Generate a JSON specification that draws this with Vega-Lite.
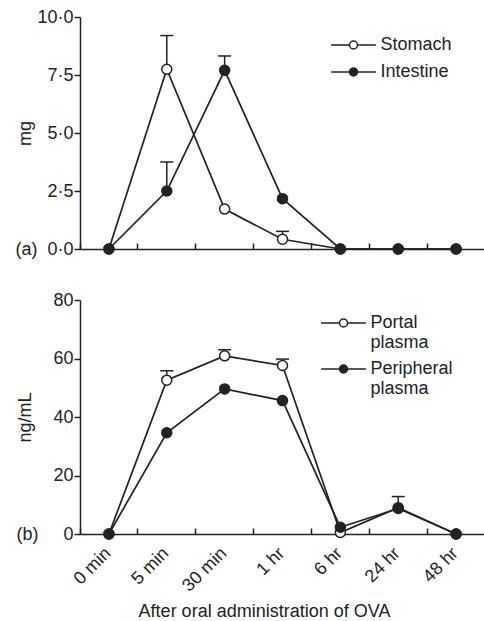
{
  "$schema": "https://vega.github.io/schema/vega-lite/v6.json",
  "background": "white",
  "padding": {"left": 14, "top": 8, "right": 0, "bottom": 0},
  "spacing": 33,
  "resolve": {"scale": {"fill": "independent"}, "legend": {"fill": "independent"}},
  "config": {
    "font": "Liberation Sans",
    "view": {"stroke": null},
    "axis": {
      "grid": false,
      "domainColor": "#222",
      "tickColor": "#222",
      "labelColor": "#222",
      "titleColor": "#222",
      "labelFontSize": 18,
      "titleFontSize": 18,
      "titleFontWeight": "normal",
      "domainWidth": 1.5,
      "tickWidth": 1.5,
      "labelPadding": 1
    },
    "legend": {
      "title": null,
      "orient": "none",
      "padding": 0,
      "symbolType": "M-5.6,0H-1M1,0H5.6M1,0A1,1,0,1,1,-1,0A1,1,0,1,1,1,0Z",
      "symbolSize": 64,
      "symbolStrokeColor": "#222",
      "symbolStrokeWidth": 1.5,
      "symbolOpacity": 1,
      "labelFontSize": 18,
      "labelColor": "#222",
      "labelOffset": 18,
      "labelLimit": 300
    }
  },
  "datasets": {
    "gut": [
      {"time": "0 min", "series": "Stomach", "value": 0},
      {"time": "5 min", "series": "Stomach", "value": 7.75, "upper": 9.2},
      {"time": "30 min", "series": "Stomach", "value": 1.72},
      {"time": "1 hr", "series": "Stomach", "value": 0.42, "upper": 0.76},
      {"time": "6 hr", "series": "Stomach", "value": 0},
      {"time": "24 hr", "series": "Stomach", "value": 0},
      {"time": "48 hr", "series": "Stomach", "value": 0},
      {"time": "0 min", "series": "Intestine", "value": 0},
      {"time": "5 min", "series": "Intestine", "value": 2.5, "upper": 3.75},
      {"time": "30 min", "series": "Intestine", "value": 7.7, "upper": 8.32},
      {"time": "1 hr", "series": "Intestine", "value": 2.17},
      {"time": "6 hr", "series": "Intestine", "value": 0},
      {"time": "24 hr", "series": "Intestine", "value": 0},
      {"time": "48 hr", "series": "Intestine", "value": 0}
    ],
    "plasma": [
      {"time": "0 min", "series": "Portal plasma", "value": 0},
      {"time": "5 min", "series": "Portal plasma", "value": 52.6, "upper": 55.8},
      {"time": "30 min", "series": "Portal plasma", "value": 60.9, "upper": 63.0},
      {"time": "1 hr", "series": "Portal plasma", "value": 57.6, "upper": 59.8},
      {"time": "6 hr", "series": "Portal plasma", "value": 0.5},
      {"time": "24 hr", "series": "Portal plasma", "value": 9.0, "upper": 12.8},
      {"time": "48 hr", "series": "Portal plasma", "value": 0},
      {"time": "0 min", "series": "Peripheral plasma", "value": 0},
      {"time": "5 min", "series": "Peripheral plasma", "value": 34.6},
      {"time": "30 min", "series": "Peripheral plasma", "value": 49.6},
      {"time": "1 hr", "series": "Peripheral plasma", "value": 45.6},
      {"time": "6 hr", "series": "Peripheral plasma", "value": 2.3},
      {"time": "24 hr", "series": "Peripheral plasma", "value": 8.7},
      {"time": "48 hr", "series": "Peripheral plasma", "value": 0}
    ]
  },
  "vconcat": [
    {
      "width": 405,
      "height": 232,
      "data": {"name": "gut"},
      "encoding": {
        "x": {
          "field": "time",
          "type": "ordinal",
          "scale": {"type": "band", "domain": ["0 min", "5 min", "30 min", "1 hr", "6 hr", "24 hr", "48 hr"], "paddingInner": 0, "paddingOuter": 0},
          "axis": {"title": null, "labels": false, "bandPosition": 0, "tickSize": -6}
        }
      },
      "layer": [
        {
          "mark": {"type": "line", "color": "#222", "strokeWidth": 1.7},
          "encoding": {
            "y": {
              "field": "value",
              "type": "quantitative",
              "scale": {"domain": [0, 10], "nice": false},
              "axis": {
                "title": "mg",
                "values": [0, 2.5, 5, 7.5, 10],
                "tickSize": 6,
                "labelExpr": "datum.value == 0 ? '(a)\u00a0\u00a00·0' : replace(format(datum.value, '.1f'), '.', '·')",
                "titleX": -50,
                "titleBaseline": "alphabetic"
              }
            },
            "detail": {"field": "series"}
          }
        },
        {
          "transform": [{"filter": "isValid(datum.upper)"}],
          "mark": {"type": "rule", "color": "#222", "strokeWidth": 1.5},
          "encoding": {
            "y": {"field": "value", "type": "quantitative"},
            "y2": {"field": "upper"}
          }
        },
        {
          "transform": [{"filter": "isValid(datum.upper)"}],
          "mark": {"type": "tick", "orient": "horizontal", "color": "#222", "thickness": 1.5, "size": 13, "opacity": 1},
          "encoding": {
            "y": {"field": "upper", "type": "quantitative"}
          }
        },
        {
          "mark": {"type": "point", "shape": "circle", "filled": true, "size": 100, "stroke": "#222", "strokeWidth": 1.5, "opacity": 1},
          "encoding": {
            "y": {"field": "value", "type": "quantitative"},
            "fill": {
              "field": "series",
              "type": "nominal",
              "scale": {"domain": ["Stomach", "Intestine"], "range": ["white", "#222"]},
              "legend": {"legendX": 264.5, "legendY": 19, "rowPadding": 9}
            }
          }
        }
      ]
    },
    {
      "width": 405,
      "height": 234,
      "data": {"name": "plasma"},
      "encoding": {
        "x": {
          "field": "time",
          "type": "ordinal",
          "scale": {"type": "band", "domain": ["0 min", "5 min", "30 min", "1 hr", "6 hr", "24 hr", "48 hr"], "paddingInner": 0, "paddingOuter": 0},
          "axis": {
            "title": "After oral administration of OVA",
            "bandPosition": 0,
            "tickSize": -6,
            "labelOffset": -7,
            "labelAngle": -45,
            "labelAlign": "right",
            "labelBaseline": "top",
            "labelPadding": 16,
            "titleX": 184,
            "titlePadding": 8
          }
        }
      },
      "layer": [
        {
          "mark": {"type": "line", "color": "#222", "strokeWidth": 1.7},
          "encoding": {
            "y": {
              "field": "value",
              "type": "quantitative",
              "scale": {"domain": [0, 80], "nice": false},
              "axis": {
                "title": "ng/mL",
                "values": [0, 20, 40, 60, 80],
                "tickSize": 6,
                "labelExpr": "datum.value == 0 ? '(b)\u00a0\u00a0\u00a0\u00a0\u00a00' : datum.label",
                "titleX": -50,
                "titleBaseline": "alphabetic"
              }
            },
            "detail": {"field": "series"}
          }
        },
        {
          "transform": [{"filter": "isValid(datum.upper)"}],
          "mark": {"type": "rule", "color": "#222", "strokeWidth": 1.5},
          "encoding": {
            "y": {"field": "value", "type": "quantitative"},
            "y2": {"field": "upper"}
          }
        },
        {
          "transform": [{"filter": "isValid(datum.upper)"}],
          "mark": {"type": "tick", "orient": "horizontal", "color": "#222", "thickness": 1.5, "size": 13, "opacity": 1},
          "encoding": {
            "y": {"field": "upper", "type": "quantitative"}
          }
        },
        {
          "mark": {"type": "point", "shape": "circle", "filled": true, "size": 100, "stroke": "#222", "strokeWidth": 1.5, "opacity": 1},
          "encoding": {
            "y": {"field": "value", "type": "quantitative"},
            "fill": {
              "field": "series",
              "type": "nominal",
              "scale": {"domain": ["Portal plasma", "Peripheral plasma"], "range": ["white", "#222"]},
              "legend": {"legendX": 254.5, "legendY": 14, "rowPadding": 8, "labelExpr": "split(datum.label, ' ')"}
            }
          }
        }
      ]
    }
  ]
}
